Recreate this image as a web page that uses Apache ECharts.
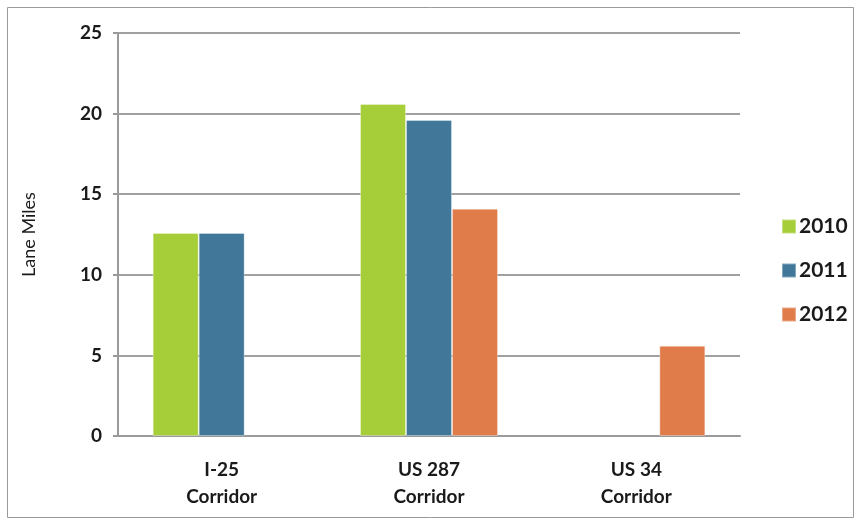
<!DOCTYPE html>
<html>
<head>
<meta charset="utf-8">
<script src="https://cdn.jsdelivr.net/npm/echarts@6/dist/echarts.min.js"></script>
<style>
  html, body { margin: 0; padding: 0; background: #ffffff; }
  #chart { width: 860px; height: 525px; }
</style>
</head>
<body>
<div id="chart"></div>
<script>
// Lane miles by corridor and year
const corridors = ['I-25\nCorridor', 'US 287\nCorridor', 'US 34\nCorridor'];
const years = ['2010', '2011', '2012'];
const values2010 = [12.6, 20.6, null];
const values2011 = [12.6, 19.6, null];
const values2012 = [null, 14.1, 5.6];
const yTicks = { min: 0, max: 25, interval: 5 };

const colors = ['#a6ce39', '#41789a', '#e07b4a'];
const font = 'Lato, "Open Sans", sans-serif';

const chart = echarts.init(document.getElementById('chart'));
const seriesData = [values2010, values2011, values2012];

chart.setOption({
  animation: false,
  textStyle: { fontFamily: font },
  graphic: [{
    type: 'rect',
    shape: { x: 7.5, y: 7.5, width: 846, height: 510 },
    style: { fill: 'none', stroke: '#9a9a9a', lineWidth: 1 },
    silent: true
  }],
  grid: { left: 118, right: 120, top: 33, bottom: 89, containLabel: false },
  legend: {
    orient: 'vertical',
    left: 776,
    top: 211,
    itemWidth: 14,
    itemHeight: 14,
    itemGap: 23,
    icon: 'rect',
    textStyle: { fontSize: 21, fontWeight: 'bold', color: '#1a1a1a', fontFamily: font, padding: [0, 0, 0, -2] },
    data: years
  },
  xAxis: {
    type: 'category',
    data: corridors,
    axisLine: { lineStyle: { color: '#9a9a9a', width: 2 } },
    axisTick: { show: false },
    axisLabel: {
      color: '#1a1a1a',
      fontSize: 19,
      fontWeight: 'bold',
      lineHeight: 27,
      margin: 20
    }
  },
  yAxis: {
    type: 'value',
    min: yTicks.min,
    max: yTicks.max,
    interval: yTicks.interval,
    name: 'Lane Miles',
    nameLocation: 'middle',
    nameGap: 80,
    nameTextStyle: { color: '#1a1a1a', fontSize: 18, fontFamily: font },
    axisLine: { show: true, lineStyle: { color: '#9a9a9a', width: 2 } },
    axisTick: { show: true, length: 5, lineStyle: { color: '#9a9a9a', width: 2 } },
    splitLine: { lineStyle: { color: '#a0a0a0', width: 2 } },
    axisLabel: { color: '#1a1a1a', fontSize: 19, fontWeight: 'bold', margin: 16 }
  },
  series: years.map((y, i) => ({
    name: y,
    type: 'bar',
    data: seriesData[i],
    barWidth: 46,
    barGap: '0%',
    itemStyle: { color: colors[i], borderColor: 'rgba(255,255,255,0.35)', borderWidth: 1 }
  }))
});
</script>
</body>
</html>
